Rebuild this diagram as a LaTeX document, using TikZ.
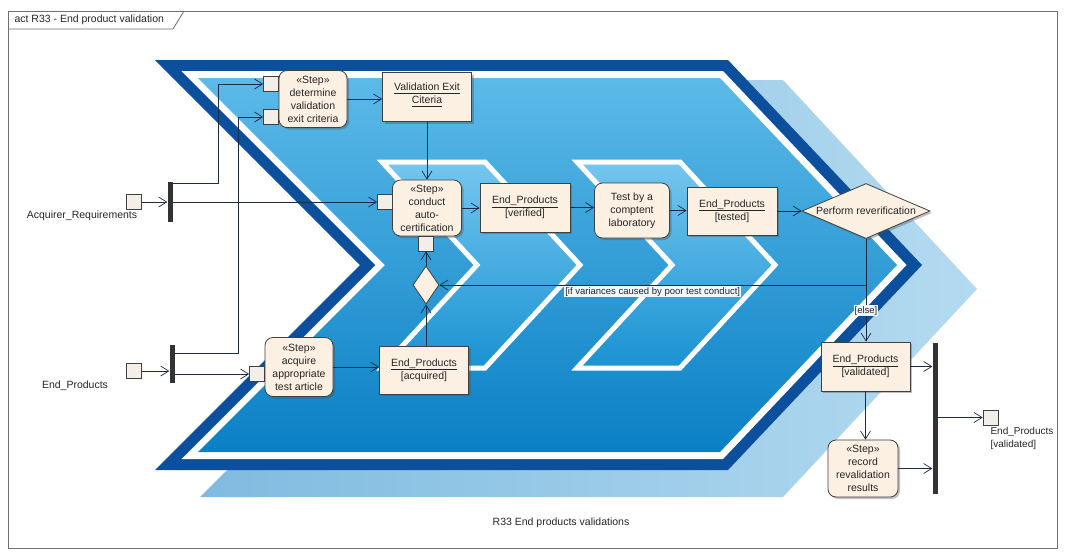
\documentclass[tikz,border=0pt]{standalone}
\usepackage{fontspec}
\setmainfont{Liberation Sans}
\usetikzlibrary{arrows.meta,shapes.geometric,shadows}
\definecolor{nodefill}{HTML}{FCF0E3}
\definecolor{nodeborder}{HTML}{404040}
\definecolor{pinfill}{HTML}{F4EEE8}
\definecolor{barcol}{HTML}{333333}
\definecolor{linecol}{HTML}{1C2B45}
\definecolor{darkblue}{HTML}{0C4F9C}
\definecolor{framecol}{HTML}{707070}
\definecolor{guardfill}{HTML}{EEF7FC}
\definecolor{shadowL}{HTML}{7FBBE0}
\definecolor{shadowR}{HTML}{B4DAF0}
\definecolor{blueTop}{HTML}{5CBAE8}
\definecolor{blueBot}{HTML}{0A80C5}
\definecolor{innerTop}{HTML}{74C6EE}
\definecolor{innerBot}{HTML}{1A92D2}
\newcommand{\objname}[1]{\underline{\raisebox{0pt}[\height][1.8pt]{#1}}}
\begin{document}
\begin{tikzpicture}[x=1pt,y=-1pt,
  every node/.style={font=\fontsize{10.5}{13}\selectfont, text=black!85},
  actnode/.style={draw=nodeborder, line width=0.8pt, fill=nodefill, rounded corners=8pt, align=center, inner sep=1pt,
    drop shadow={shadow xshift=2pt,shadow yshift=-2pt,opacity=0.35,fill=black!70}},
  objnode/.style={draw=nodeborder, line width=0.8pt, fill=nodefill, align=center, inner sep=1pt,
    drop shadow={shadow xshift=2pt,shadow yshift=-2pt,opacity=0.35,fill=black!70}},
  pinnode/.style={draw=nodeborder, line width=0.7pt, fill=pinfill, minimum size=15pt, inner sep=0pt},
  barnode/.style={fill=barcol, inner sep=0pt, minimum width=5pt},
  flow/.style={draw=linecol, line width=0.7pt, -{Straight Barb[length=8pt,width=10pt]}},
  guard/.style={fill=guardfill, inner sep=1pt, font=\fontsize{9.5}{11}\selectfont}
]
\useasboundingbox (0,0) rectangle (1065,552);
\fill[white] (0,0) rectangle (1065,552);
% frame
\draw[framecol, line width=0.8pt] (8,11) rectangle (1057,548);
\draw[framecol, line width=0.8pt] (8,29) -- (173,29) -- (184,11);
\node[anchor=west] (title) at (11,20) {act R33 - End product validation};

% background chevrons
\shade[left color=shadowL, right color=shadowR] (205,80) -- (783,80) -- (977,289) -- (783,497) -- (200,497) -- (410,289) -- cycle;
\fill[darkblue] (155,60) -- (728,60) -- (922,265) -- (728,470) -- (155,470) -- (360,265) -- cycle;
\fill[white] (181.5,71) -- (723,71) -- (906.5,265) -- (723,459) -- (181.5,459) -- (375.5,265) -- cycle;
\shade[top color=blueTop, bottom color=blueBot] (198,78) -- (720,78) -- (897,265) -- (720,452) -- (198,452) -- (385,265) -- cycle;
\shadedraw[top color=innerTop, bottom color=innerBot, draw=white, line width=5pt, line join=miter]
  (382,162) -- (485,162) -- (580,265) -- (485,368) -- (382,368) -- (477,265) -- cycle;
\shadedraw[top color=innerTop, bottom color=innerBot, draw=white, line width=5pt, line join=miter]
  (577,162) -- (680,162) -- (775,265) -- (680,368) -- (577,368) -- (672,265) -- cycle;

% nodes
\node[pinnode] (pinAR) at (134,202) {};
\node (lAR) at (82,216) {Acquirer\_Requirements};
\node[barnode, minimum height=40pt] (bar1) at (170,202) {};
\node[pinnode] (pinEP) at (134,371) {};
\node (lEP) at (75,386) {End\_Products};
\node[barnode, minimum height=38pt] (bar2) at (172,364) {};

\node[actnode, minimum width=68pt, minimum height=57pt] (det) at (313,99) {«Step»\\determine\\validation\\exit criteria};
\node[pinnode] (pinD1) at (271,84) {};
\node[pinnode] (pinD2) at (271,117) {};
\node[objnode, minimum width=89pt, minimum height=49pt] (vec) at (427,97) {\objname{Validation Exit}\\\objname{Citeria}\\[-5pt]};

\node[actnode, minimum width=69pt, minimum height=56pt] (cond) at (427,208) {«Step»\\conduct\\auto-\\certification};
\node[pinnode] (pinC1) at (385,202) {};
\node[pinnode] (pinC2) at (426,243.5) {};
\node[diamond, draw=nodeborder, line width=0.8pt, fill=nodefill, minimum width=26pt, minimum height=38pt, inner sep=0pt] (merge) at (426,285) {};

\node[actnode, minimum width=68pt, minimum height=59pt] (acq) at (299,367) {«Step»\\acquire\\appropriate\\test article};
\node[pinnode] (pinA) at (257,374) {};
\node[objnode, minimum width=89pt, minimum height=48pt] (eacq) at (424,370) {\objname{End\_Products}\\{[acquired]}};

\node[objnode, minimum width=90pt, minimum height=49pt] (ever) at (525,207.5) {\objname{End\_Products}\\{[verified]}};
\node[actnode, minimum width=75pt, minimum height=55pt] (test) at (632,210.5) {Test by a\\comptent\\laboratory};
\node[objnode, minimum width=90pt, minimum height=48pt] (etest) at (732,211) {\objname{End\_Products}\\{[tested]}};
\node[diamond, draw=nodeborder, line width=0.8pt, fill=nodefill, minimum width=128pt, minimum height=55pt, aspect=2.3, inner sep=0pt,
  drop shadow={shadow xshift=2pt,shadow yshift=-2pt,opacity=0.35,fill=black!70}] (dec) at (866,211) {Perform reverification};

\node[objnode, minimum width=89pt, minimum height=49pt] (eval) at (865.5,366.5) {\objname{End\_Products}\\{[validated]}};
\node[actnode, minimum width=70pt, minimum height=57pt] (rec) at (863,468.5) {«Step»\\record\\revalidation\\results};
\node[barnode, minimum height=151pt] (bar3) at (935,418.5) {};
\node[pinnode] (pinOut) at (990.5,417.5) {};
\node[anchor=north west, align=left, font=\fontsize{10}{13}\selectfont] (lOut) at (987,424) {End\_Products\\{[validated]}};

\node (cap) at (561,523) {R33 End products validations};

% flows
\draw[flow] (pinAR.east) -- (bar1.west);
\draw[flow] (pinEP.east) -- (pinEP.east -| bar2.west);
\draw[flow] ([yshift=-2pt]bar1.north east) -| ([xshift=-45pt]pinD1.west) -- (pinD1.west);
\draw[flow] ([yshift=-9pt]bar2.north east) -| ([xshift=-25pt]pinD2.west) -- (pinD2.west);
\draw[flow] (bar1.east |- pinC1.west) -- (pinC1.west);
\draw[flow] (bar2.east |- pinA.west) -- (pinA.west);
\draw[flow] (det.east) -- (vec.west |- det.east);
\draw[flow] (vec.south -| cond.north) -- (cond.north);
\draw[flow] (acq.east) -- (eacq.west |- acq.east);
\draw[flow] (eacq.north -| merge.south) -- (merge.south);
\draw[flow] (merge.north) -- (pinC2.south);
\draw[flow] (cond.east) -- (ever.west |- cond.east);
\draw[flow] (ever.east) -- (test.west |- ever.east);
\draw[flow] (test.east) -- (etest.west |- test.east);
\draw[flow] (etest.east) -- (dec.west);
\draw[flow] (dec.south) |- (merge.east) node[guard, pos=0.75, below=1pt] {[if variances caused by poor test conduct]};
\draw[flow] (dec.south) -- (dec.south |- eval.north) node[guard, pos=0.7] {[else]};
\draw[flow] (eval.south) -- (eval.south |- rec.north);
\draw[flow] (eval.east) -- (eval.east -| bar3.west);
\draw[flow] (rec.east) -- (rec.east -| bar3.west);
\draw[flow] (bar3.east |- pinOut.west) -- (pinOut.west);
\end{tikzpicture}
\end{document}
